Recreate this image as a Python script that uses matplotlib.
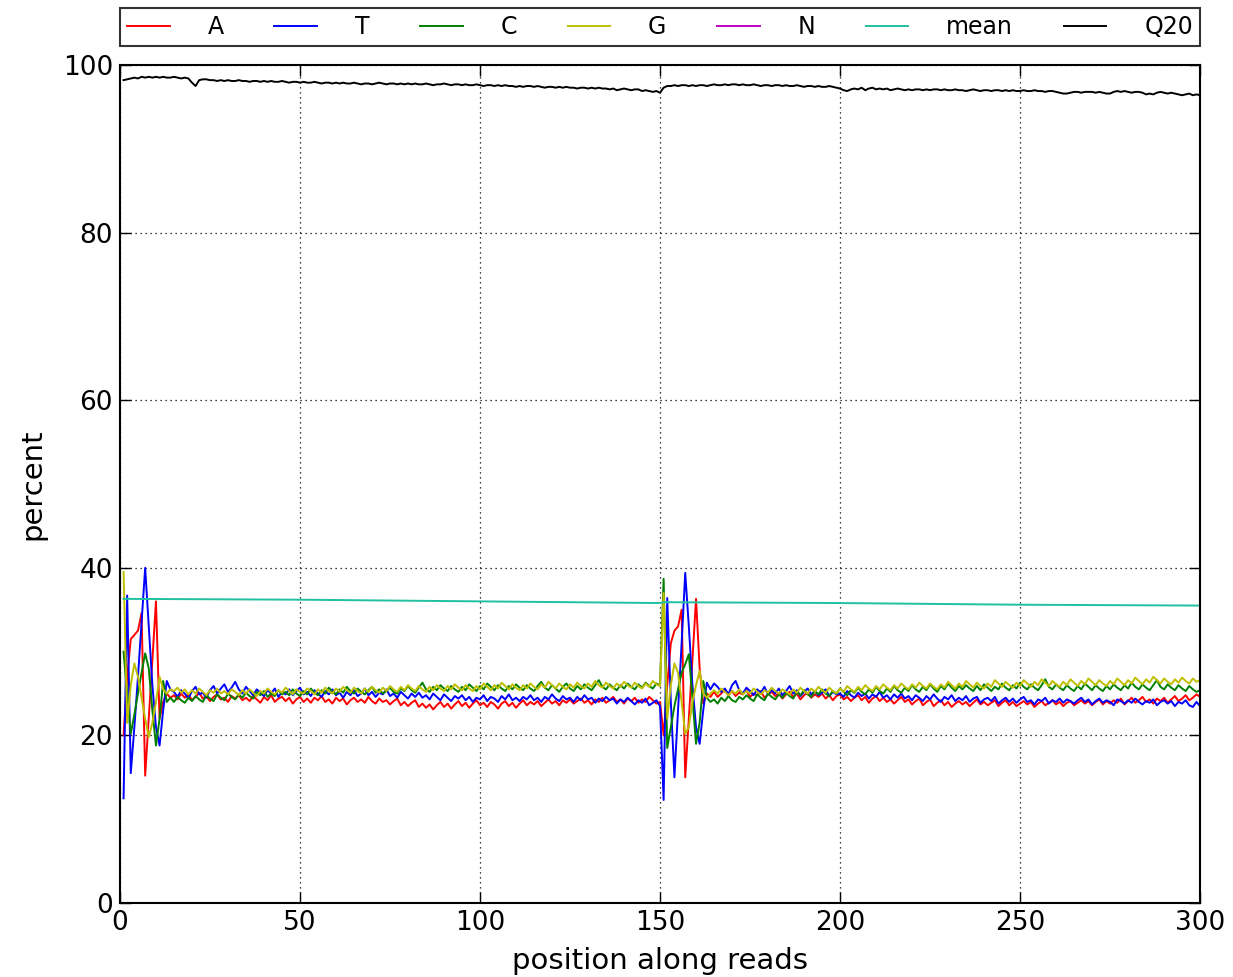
import matplotlib
matplotlib.use("Agg")
import matplotlib.pyplot as plt

# per-position base composition (%), positions 1..300 (two reads of 150)
positions = list(range(1, 301))

A = [
    20.0, 27.0, 31.5, 32.0, 32.5, 34.6, 15.2, 22.0, 29.0, 36.0, 22.0, 24.0, 25.0, 24.5,
    24.8, 24.3, 25.0, 24.5, 24.9, 24.2, 24.6, 25.1, 24.4, 24.7,
    24.1, 24.6, 24.9, 24.3, 24.5, 24.0, 24.7, 24.4, 24.8, 24.2,
    24.5, 24.1, 24.7, 24.3, 23.9, 24.6, 24.2, 24.8, 24.0, 24.4,
    24.6, 24.1, 24.5, 23.8, 24.3, 24.6, 24.0, 24.4, 23.9, 24.5,
    24.2, 24.7, 24.0, 24.3, 23.8, 24.5, 24.1, 24.4, 23.7, 24.2,
    24.5, 24.0, 24.3, 23.9, 24.6, 24.1, 23.8, 24.4, 24.0, 24.2,
    23.7, 24.1, 24.4, 23.6, 24.0, 23.5, 23.9, 24.2, 23.4, 23.8,
    23.3, 23.7, 23.1, 23.6, 24.0, 23.4, 23.8, 23.2, 23.7, 24.1,
    23.5, 23.9, 23.3, 23.8, 24.2, 23.6, 23.9, 23.4, 24.0, 23.7,
    23.2, 23.8, 24.1, 23.5, 23.9, 23.3, 23.8, 24.2, 23.6, 24.0,
    23.7, 24.1, 23.5, 23.9, 24.3, 23.8, 24.1, 23.6, 24.2, 23.9,
    24.3, 23.8, 24.1, 24.4, 23.9, 24.2, 23.7, 24.3, 24.0, 24.5,
    23.9, 24.2, 24.6, 24.0, 24.3, 23.8, 24.4, 24.1, 24.5, 23.9,
    24.3, 24.0, 24.6, 24.2, 23.8, 24.0,
    20.0, 26.0, 31.0, 32.5, 33.0, 35.0, 15.0, 22.0, 29.0, 36.3, 28.0, 23.8, 25.0, 24.6,
    25.2, 24.6, 25.0, 25.5, 24.8, 25.3, 24.7, 25.1, 24.9, 25.4,
    24.6, 25.0, 24.8, 25.3, 24.5, 24.9, 25.2, 24.7, 25.0, 24.4,
    24.9, 25.2, 24.6, 25.0, 24.3, 24.8, 25.1, 24.5, 24.9, 24.6,
    25.0, 24.4, 24.8, 24.2, 24.7, 24.9, 24.3, 24.6, 24.1, 24.5,
    24.8, 24.2, 24.6, 23.9, 24.4, 24.7, 24.1, 24.5, 24.0, 24.3,
    23.8, 24.2, 24.6, 24.0, 24.3, 23.7, 24.1, 24.4, 23.6, 24.0,
    24.3, 23.5, 23.9, 24.2, 23.6, 24.0, 23.4, 23.8, 24.1, 23.7,
    24.0, 23.5, 23.9, 24.3, 23.7, 24.0, 23.6, 23.9, 24.2, 23.5,
    23.9, 24.2, 23.6, 24.0, 23.5, 23.8, 24.1, 23.7, 24.0, 23.4,
    23.8, 24.1, 23.6, 23.9, 24.2, 23.7, 24.0, 23.5, 23.9, 24.1,
    23.6, 23.9, 24.2, 23.8, 24.1, 23.6, 24.0, 24.3, 23.7, 24.1,
    23.8, 24.2, 23.9, 24.4, 23.7, 24.1, 24.5, 23.9, 24.2, 24.6,
    24.0, 24.3, 23.8, 24.4, 24.1, 24.5, 23.9, 24.3, 24.7, 24.1,
    24.4, 24.8, 24.2, 24.5, 24.9, 24.6,
]

T = [
    12.5, 36.7, 15.5, 21.0, 27.0, 33.5, 40.0, 33.0, 26.0, 21.0, 18.8, 23.0, 26.5, 25.5,
    25.2, 24.6, 25.4, 25.0, 24.4, 25.3, 25.8, 24.9, 25.1, 24.5,
    25.4, 25.9, 25.0, 25.6, 26.1, 25.2, 25.7, 26.4, 25.5, 25.0,
    25.8, 25.3, 24.8, 25.5, 25.1, 24.7, 25.4, 25.0, 25.6, 24.6,
    25.2, 24.9, 25.5, 24.8, 25.3, 25.7, 24.9, 25.2, 24.7, 25.4,
    25.0, 24.6, 25.3, 24.9, 25.5, 24.8, 25.1, 24.5, 25.2, 24.8,
    25.4, 24.7, 25.0, 25.6, 24.8, 25.2, 24.6, 25.1, 24.9, 25.5,
    24.7, 25.0, 24.5, 25.2, 24.8, 24.4, 25.0, 24.6, 25.1, 24.5,
    24.8, 24.3, 25.0, 24.6, 24.2, 24.9, 24.5, 24.1, 24.7, 24.4,
    24.8, 24.2, 24.6, 24.0, 24.5, 24.3, 24.8, 24.1, 24.6, 24.4,
    24.0, 24.7, 24.3, 24.9, 24.2, 24.5, 24.1, 24.6, 24.3, 24.8,
    24.2, 24.5, 24.0, 24.6, 24.3, 24.9, 24.4, 24.1, 24.7, 24.3,
    24.5, 24.0, 24.6, 24.2, 24.8, 24.3, 24.5, 23.9, 24.4, 24.1,
    24.6, 24.2, 24.4, 23.8, 24.3, 24.0, 24.5, 24.1, 23.7, 24.2,
    23.9, 24.4, 23.6, 23.9, 24.2, 23.5,
    12.3, 36.4, 24.0, 15.0, 23.0, 31.0, 39.4, 33.0, 26.0, 21.0, 19.0, 23.0, 26.3, 25.5,
    26.2, 25.8, 25.2, 25.6, 24.9, 26.0, 26.5, 25.4, 25.0, 25.7,
    25.3, 24.8, 25.5, 25.1, 25.8, 24.9, 25.4, 25.0, 25.6, 24.8,
    25.3, 25.9, 25.0, 25.4, 24.7, 25.2, 25.6, 24.9, 25.3, 24.8,
    25.1, 25.5, 24.7, 25.2, 24.9, 25.0, 24.6, 25.3, 24.8, 24.5,
    25.1, 24.7, 25.0, 24.4, 24.9, 24.6, 25.2, 24.5, 24.8, 24.3,
    24.9, 24.5, 25.0, 24.4, 24.7, 24.2, 24.8, 24.5, 24.1, 24.7,
    24.3, 24.9, 24.4, 24.0, 24.6, 24.3, 24.8, 24.1, 24.5, 24.2,
    24.7, 24.0, 24.4, 24.6, 23.9, 24.3, 24.5, 24.1, 24.6, 23.8,
    24.2, 24.5, 24.0, 24.4, 23.9, 24.3, 24.6, 24.0, 24.2, 23.7,
    24.3, 24.1, 24.5, 23.8, 24.2, 24.0, 24.4, 23.9, 24.3, 24.1,
    23.8, 24.2, 24.5, 24.0, 24.3, 23.7, 24.1, 24.4, 23.9, 24.2,
    24.0, 23.6, 24.3, 24.1, 23.8, 24.2, 23.9, 24.4, 24.0, 23.7,
    24.1, 23.9, 24.3, 23.6, 24.0, 24.2, 23.8, 24.1, 23.5, 24.0,
    23.8, 24.2, 23.6, 23.4, 24.0, 23.5,
]

C = [
    30.0, 25.0, 20.2, 22.5, 25.0, 27.5, 29.8, 28.0, 23.0, 18.8, 22.0, 26.5, 24.0, 24.5,
    24.0, 24.6, 24.2, 23.9, 24.5, 24.1, 24.7, 24.3, 24.0, 24.8,
    24.4, 24.1, 24.9, 24.5, 24.2, 25.0, 24.6, 24.3, 24.9, 24.5,
    25.1, 24.7, 24.4, 25.2, 24.8, 25.3, 24.6, 25.0, 24.7, 25.4,
    24.9, 25.2, 24.8, 25.5, 25.0, 24.7, 25.3, 24.9, 25.6, 25.1,
    24.8, 25.4, 25.0, 25.7, 25.2, 24.9, 25.5, 25.1, 25.8, 25.3,
    25.0, 25.6, 25.2, 24.9, 25.4, 25.8, 25.1, 25.5, 25.0, 25.3,
    25.7, 25.2, 25.0, 25.6, 25.3, 25.9, 25.4, 25.1, 25.7, 26.3,
    25.5, 25.2, 25.8, 25.4, 26.0, 25.6, 25.3, 25.9, 25.5, 25.2,
    25.8, 25.4, 26.1, 25.7, 25.3, 25.9, 25.5, 26.2, 25.8, 25.4,
    26.0, 25.6, 25.3, 25.9, 25.5, 26.1, 25.7, 25.4, 26.0, 25.6,
    25.3, 25.9, 26.4, 25.7, 25.4, 26.0, 25.6, 25.2, 25.8, 26.2,
    25.6, 25.3, 25.9, 25.5, 26.1, 25.7, 25.4, 26.0, 26.6, 25.8,
    25.5, 26.1, 25.7, 25.4, 26.0, 25.6, 26.2, 25.8, 25.5, 26.1,
    25.7, 26.3, 25.9, 25.6, 26.2, 26.0,
    38.7, 18.5, 21.0, 23.5, 25.5, 27.5, 28.5, 29.7, 24.5, 19.0, 21.5, 26.5, 24.5, 24.0,
    24.3, 23.8, 24.5, 24.1, 24.7, 24.2, 24.0, 24.6, 24.3, 24.8,
    24.4, 24.1, 24.9, 24.5, 24.2, 25.0, 24.6, 24.3, 24.9, 24.5,
    25.1, 24.7, 24.4, 25.2, 24.8, 25.4, 24.9, 24.6, 25.3, 24.9,
    25.5, 25.0, 24.7, 25.3, 25.0, 25.6, 25.2, 24.8, 25.4, 25.1,
    25.7, 25.2, 24.9, 25.5, 25.1, 25.8, 25.3, 25.0, 25.6, 25.2,
    25.9, 25.4, 25.1, 25.7, 25.3, 26.0, 25.5, 25.2, 25.8, 25.4,
    26.1, 25.6, 25.2, 25.9, 25.5, 26.2, 25.7, 25.3, 25.9, 25.5,
    26.0, 25.6, 25.3, 25.9, 25.4, 26.1, 25.7, 25.3, 25.8, 25.5,
    26.2, 25.7, 25.4, 26.0, 25.6, 26.3, 25.8, 25.5, 26.1, 25.7,
    25.4, 26.0, 26.7, 25.8, 25.5, 26.1, 25.7, 25.4, 26.0, 25.6,
    25.3, 25.9, 25.5, 26.2, 25.8, 25.4, 26.0, 25.6, 25.3, 25.9,
    25.5, 26.1, 25.7, 25.4, 26.0, 25.6, 26.3, 25.8, 25.5, 26.1,
    25.7, 25.4, 26.0, 26.6, 25.8, 25.5, 26.1, 25.7, 25.4, 26.0,
    25.6, 25.3, 25.9, 25.5, 25.2, 25.4,
]

G = [
    39.5, 21.5, 26.0, 28.6, 27.0, 24.5, 22.0, 19.8, 21.5, 24.0, 27.0, 25.5, 25.0, 25.5,
    25.3, 25.7, 25.1, 25.5, 24.9, 25.4, 25.0, 25.6, 25.2, 24.8,
    25.4, 25.1, 25.6, 25.0, 25.3, 24.9, 25.5, 25.2, 24.8, 25.4,
    25.0, 25.5, 25.1, 24.7, 25.3, 25.0, 25.6, 25.2, 24.9, 25.4,
    25.1, 25.7, 25.3, 24.9, 25.5, 25.2, 25.0, 25.6, 25.3, 24.9,
    25.5, 25.1, 25.7, 25.3, 25.0, 25.6, 25.2, 25.8, 25.4, 25.1,
    25.7, 25.3, 25.0, 25.6, 25.2, 25.8, 25.4, 25.1, 25.7, 25.3,
    25.9, 25.5, 25.2, 25.8, 25.4, 26.0, 25.6, 25.3, 25.9, 25.5,
    25.2, 25.8, 25.4, 26.0, 25.6, 25.3, 25.9, 25.5, 26.1, 25.7,
    25.4, 26.0, 25.6, 25.3, 25.9, 25.5, 26.2, 25.8, 25.4, 26.0,
    25.6, 26.3, 25.9, 25.5, 26.1, 25.7, 25.4, 26.0, 25.6, 26.2,
    25.8, 25.5, 26.1, 25.7, 26.4, 26.0, 25.6, 26.2, 25.8, 25.5,
    26.1, 25.7, 26.3, 25.9, 25.6, 26.2, 25.8, 26.5, 26.0, 25.7,
    26.3, 25.9, 25.6, 26.2, 25.8, 26.4, 26.0, 25.7, 26.3, 25.9,
    25.6, 26.2, 25.8, 26.5, 26.1, 25.9,
    37.0, 22.0, 26.0, 28.6, 27.5, 24.0, 20.2, 21.0, 24.0, 26.0, 27.7, 25.0, 24.5, 25.0,
    25.4, 25.0, 25.6, 25.2, 24.8, 25.3, 25.0, 25.5, 24.9, 25.3,
    25.0, 25.6, 25.2, 24.9, 25.4, 25.1, 25.7, 25.3, 25.0, 25.5,
    25.2, 24.9, 25.5, 25.1, 25.7, 25.3, 25.0, 25.6, 25.2, 25.8,
    25.4, 25.1, 25.7, 25.3, 25.0, 25.6, 25.2, 25.9, 25.5, 25.2,
    25.8, 25.4, 26.0, 25.6, 25.3, 25.9, 25.5, 26.1, 25.7, 25.4,
    26.0, 25.6, 26.2, 25.8, 25.5, 26.1, 25.7, 26.3, 25.9, 25.6,
    26.2, 25.8, 25.5, 26.1, 25.7, 26.4, 26.0, 25.6, 26.2, 25.8,
    26.5, 26.1, 25.7, 26.3, 25.9, 25.6, 26.2, 25.8, 26.6, 26.2,
    25.8, 26.4, 26.0, 25.7, 26.3, 25.9, 26.6, 26.2, 25.8, 26.4,
    26.0, 26.7, 26.3, 25.9, 26.5, 26.1, 25.8, 26.4, 26.0, 26.7,
    26.3, 25.9, 26.5, 26.1, 26.8, 26.4, 26.0, 26.6, 26.2, 25.9,
    26.5, 26.1, 26.8, 26.4, 26.0, 26.6, 26.2, 26.9, 26.5, 26.1,
    26.7, 26.3, 27.0, 26.6, 26.2, 26.8, 26.4, 26.1, 26.7, 26.3,
    26.9, 26.5, 26.2, 26.8, 26.4, 26.6,
]

N = [0.0] * len(positions)

Q20 = [
    98.2, 98.3, 98.4, 98.5, 98.4, 98.6, 98.5, 98.6, 98.5, 98.6,
    98.5, 98.6, 98.5, 98.5, 98.6, 98.5, 98.4, 98.5, 98.4, 97.9,
    97.5, 98.2, 98.3, 98.3, 98.2, 98.2, 98.1, 98.2, 98.1, 98.2,
    98.1, 98.1, 98.2, 98.1, 98.1, 98.0, 98.1, 98.1, 98.0, 98.1,
    98.0, 98.1, 98.0, 98.0, 98.1, 98.0, 97.9, 98.0, 98.0, 97.9,
    98.0, 97.9, 97.9, 98.0, 97.9, 97.8, 97.9, 97.9, 97.8, 97.9,
    97.8, 97.9, 97.8, 97.8, 97.9, 97.8, 97.7, 97.8, 97.8, 97.7,
    97.8, 97.9, 97.8, 97.7, 97.8, 97.8, 97.7, 97.8, 97.7, 97.8,
    97.7, 97.8, 97.7, 97.7, 97.8, 97.7, 97.6, 97.7, 97.7, 97.8,
    97.7, 97.6, 97.7, 97.7, 97.6, 97.7, 97.6, 97.6, 97.7, 97.6,
    97.5, 97.6, 97.6, 97.5, 97.6, 97.5, 97.6, 97.5, 97.5, 97.4,
    97.5, 97.4, 97.5, 97.5, 97.4, 97.5, 97.4, 97.3, 97.4, 97.4,
    97.3, 97.4, 97.3, 97.4, 97.3, 97.3, 97.2, 97.3, 97.3, 97.2,
    97.3, 97.2, 97.3, 97.2, 97.2, 97.1, 97.2, 97.0, 97.1, 97.2,
    97.1, 97.0, 97.1, 97.1, 96.9, 97.0, 96.9, 96.8, 96.9, 96.7,
    97.3, 97.5, 97.5, 97.6, 97.5, 97.6, 97.6, 97.5, 97.6, 97.5,
    97.6, 97.6, 97.5, 97.6, 97.7, 97.6, 97.6, 97.7, 97.6, 97.7,
    97.7, 97.6, 97.7, 97.6, 97.6, 97.7, 97.6, 97.5, 97.6, 97.6,
    97.5, 97.6, 97.6, 97.5, 97.6, 97.5, 97.5, 97.6, 97.5, 97.4,
    97.5, 97.5, 97.4, 97.5, 97.4, 97.4, 97.5, 97.4, 97.3, 97.2,
    97.0, 96.9, 97.1, 97.2, 97.1, 97.3, 97.0, 97.2, 97.3, 97.1,
    97.2, 97.1, 97.2, 97.0, 97.1, 97.2, 97.1, 97.0, 97.1, 97.0,
    97.1, 97.1, 97.0, 97.1, 97.0, 97.1, 97.1, 97.0, 97.1, 97.0,
    97.0, 97.1, 97.0, 97.0, 96.9, 97.0, 97.1, 97.0, 96.9, 97.0,
    97.0, 96.9, 97.0, 97.0, 96.9, 97.0, 96.9, 97.0, 96.9, 96.9,
    97.0, 96.9, 96.9, 97.0, 96.9, 96.9, 96.8, 96.9, 96.9, 96.8,
    96.7, 96.6, 96.6, 96.7, 96.8, 96.8, 96.7, 96.8, 96.8, 96.8,
    96.7, 96.8, 96.7, 96.6, 96.6, 96.8, 96.9, 96.8, 96.9, 96.8,
    96.7, 96.8, 96.8, 96.7, 96.5, 96.6, 96.5, 96.7, 96.8, 96.7,
    96.6, 96.7, 96.6, 96.5, 96.4, 96.5, 96.6, 96.4, 96.5, 96.4,
]

mean_pos = [1, 50, 100, 150, 151, 200, 250, 300]
mean_val = [36.3, 36.2, 36.0, 35.8, 35.9, 35.8, 35.6, 35.5]

fig = plt.figure(figsize=(12.33, 9.77), dpi=100)
ax = fig.add_axes([0.0973, 0.0757, 0.876, 0.8577])

lw = 1.4
ax.plot(positions, A, color='#ff0000', lw=lw, label='A')
ax.plot(positions, T, color='#0000ff', lw=lw, label='T')
ax.plot(positions, C, color='#008000', lw=lw, label='C')
ax.plot(positions, G, color='#bfbf00', lw=lw, label='G')
ax.plot(positions, N, color='#bf00bf', lw=lw, label='N')
ax.plot(mean_pos, mean_val, color='#20c0a0', lw=lw, label='mean')
ax.plot(positions, Q20, color='#000000', lw=lw, label='Q20')

ax.set_xlim(0, 300)
ax.set_ylim(0, 100)
ax.set_xticks([0, 50, 100, 150, 200, 250, 300])
ax.set_yticks([0, 20, 40, 60, 80, 100])
ax.grid(True, color='black', linestyle=(0, (1, 3)), lw=0.9)
ax.tick_params(direction='in', length=8, width=1, top=True, right=True, labelsize=19, pad=5)
for s in ax.spines.values():
    s.set_linewidth(1.5)

ax.set_xlabel('position along reads', fontsize=21, labelpad=8)
ax.set_ylabel('percent', fontsize=21, labelpad=12)

leg = ax.legend(loc='lower left', bbox_to_anchor=(0, 1.0227, 1, 0.0465), mode='expand',
                ncol=7, borderaxespad=0, fancybox=False, fontsize=17, handlelength=1.8,
                handletextpad=1.6, borderpad=0.3)
leg.get_frame().set_edgecolor('black')
leg.get_frame().set_linewidth(1.5)

fig.savefig('out.png', dpi=100)
